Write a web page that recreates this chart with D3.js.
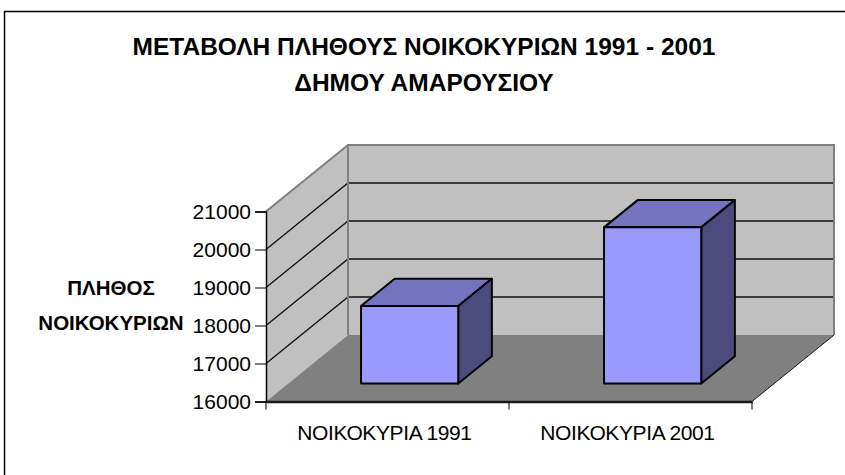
<!DOCTYPE html>
<html>
<head>
<meta charset="utf-8">
<script src="https://cdn.jsdelivr.net/npm/d3@7"></script>
<style>
  html, body { margin: 0; padding: 0; background: #fff; }
  svg { display: block; font-family: "Liberation Sans", Arial, sans-serif; }
</style>
</head>
<body>
<svg id="chart" width="845" height="475"></svg>
<script>
const categories = ["ΝΟΙΚΟΚΥΡΙΑ 1991", "ΝΟΙΚΟΚΥΡΙΑ 2001"];
const values = [18040, 20110];
const yTicks = [16000, 17000, 18000, 19000, 20000, 21000];
const titleLines = ["ΜΕΤΑΒΟΛΗ ΠΛΗΘΟΥΣ ΝΟΙΚΟΚΥΡΙΩΝ 1991 - 2001", "ΔΗΜΟΥ ΑΜΑΡΟΥΣΙΟΥ"];
const yTitleLines = ["ΠΛΗΘΟΣ", "ΝΟΙΚΟΚΥΡΙΩΝ"];

const svg = d3.select("#chart");

// outer chart border
svg.append("rect").attr("x", 4.5).attr("y", 11.5).attr("width", 900).attr("height", 600)
  .attr("fill", "#fff").attr("stroke", "#000").attr("stroke-width", 1.5);

const x0 = 266, x1 = 752;
const y = d3.scaleLinear().domain([16000, 21000]).range([401.5, 211.5]);
const x = d3.scaleBand().domain(categories).range([x0, x1]).paddingInner(0.6).paddingOuter(0.3);
const xBand = d3.scaleBand().domain(categories).range([x0, x1]).padding(0);
const D = [82, -66.5]; // depth vector
const yMin = y.domain()[0], yMax = y.domain()[1];
const P = (px, py, f) => [px + D[0] * f, py + D[1] * f];
const line = d3.line();

// back wall
const bw = [P(x0, y(yMin), 1), P(x1, y(yMin), 1), P(x1, y(yMax), 1), P(x0, y(yMax), 1)];
svg.append("path").attr("d", line(bw) + "Z").attr("fill", "#c0c0c0").attr("stroke", "none");
// left wall
const lw = [[x0, y(yMin)], P(x0, y(yMin), 1), P(x0, y(yMax), 1), [x0, y(yMax)]];
svg.append("path").attr("d", line(lw) + "Z").attr("fill", "#c0c0c0").attr("stroke", "none");
// floor
const fl = [[x0, y(yMin)], [x1, y(yMin)], P(x1, y(yMin), 1), P(x0, y(yMin), 1)];
svg.append("path").attr("d", line(fl) + "Z").attr("fill", "#808080").attr("stroke", "none");

// gridlines
yTicks.filter(v => v > yMin && v < yMax).forEach(v => {
  svg.append("path").attr("d", line([[x0, y(v)], P(x0, y(v), 1), P(x1, y(v), 1)]))
    .attr("fill", "none").attr("stroke", "#111").attr("stroke-width", 1.3);
});
// wall edges
svg.append("path").attr("d", line([[x0, y(yMax)], P(x0, y(yMax), 1), P(x1, y(yMax), 1), P(x1, y(yMin), 1)]))
  .attr("fill", "none").attr("stroke", "#808080").attr("stroke-width", 2);
svg.append("path").attr("d", line([P(x0, y(yMin), 1), P(x0, y(yMax), 1)]))
  .attr("fill", "none").attr("stroke", "#808080").attr("stroke-width", 2);
svg.append("path").attr("d", line([P(x1, y(yMin), 1), [x1, y(yMin)]]))
  .attr("fill", "none").attr("stroke", "#1a1a1a").attr("stroke-width", 1);

// bars
const f0 = 0.27, fd = 0.41;
categories.forEach((c, i) => {
  const [bx, by0] = P(x(c), y(yMin), f0);
  const bwid = x.bandwidth();
  const by1 = y(values[i]) + D[1] * f0;
  const dx = D[0] * fd, dy = D[1] * fd;
  const g = svg.append("g").attr("stroke", "#000").attr("stroke-width", 2).attr("stroke-linejoin", "round");
  g.append("path").attr("d", line([[bx, by1], [bx + dx, by1 + dy], [bx + bwid + dx, by1 + dy], [bx + bwid, by1]]) + "Z")
    .attr("fill", "#7373be");
  g.append("path").attr("d", line([[bx + bwid, by1], [bx + bwid + dx, by1 + dy], [bx + bwid + dx, by0 + dy], [bx + bwid, by0]]) + "Z")
    .attr("fill", "#4b4b7e");
  g.append("rect").attr("x", bx).attr("y", by1).attr("width", bwid).attr("height", by0 - by1)
    .attr("fill", "#9999ff");
});

// y axis
const yAxis = d3.axisLeft(y).tickValues(yTicks).tickSize(11).tickPadding(4).tickFormat(d3.format("d"));
const ya = svg.append("g").attr("transform", `translate(${x0},0)`).call(yAxis);
ya.select(".domain").attr("stroke", "#000").attr("stroke-width", 1.5);
ya.selectAll(".tick line").attr("stroke", "#000");
ya.selectAll("text").attr("font-family", "Liberation Sans, Arial, sans-serif").attr("font-size", 21).attr("fill", "#000");

// x axis
const xAxis = d3.axisBottom(xBand).tickValues([]).tickSizeOuter(0);
const xa = svg.append("g").attr("transform", `translate(0,${y(yMin)})`).call(xAxis);
xa.select(".domain").attr("stroke", "#1a1a1a").attr("stroke-width", 2.5);
const tickXs = [x0, ...categories.slice(1).map(c => xBand(c)), x1];
xa.selectAll("line.tk").data(tickXs).enter().append("line").attr("class", "tk")
  .attr("x1", d => d).attr("x2", d => d).attr("y1", 0).attr("y2", 8)
  .attr("stroke", "#000").attr("stroke-width", 1);
xa.selectAll("text.lbl").data(categories).enter().append("text").attr("class", "lbl")
  .attr("x", d => xBand(d) + xBand.bandwidth() / 2 - 3).attr("y", 38)
  .attr("text-anchor", "middle").attr("font-size", 21).attr("letter-spacing", -0.4)
  .attr("fill", "#000").text(d => d);

// title
svg.append("g").selectAll("text").data(titleLines).enter().append("text")
  .attr("x", 424).attr("y", (d, i) => 55 + i * 36)
  .attr("text-anchor", "middle").attr("font-weight", "bold").attr("font-size", 24.5)
  .attr("fill", "#000").text(d => d);

// y title
svg.append("g").selectAll("text").data(yTitleLines).enter().append("text")
  .attr("x", 111).attr("y", (d, i) => 295 + i * 35)
  .attr("text-anchor", "middle").attr("font-weight", "bold").attr("font-size", 20.5)
  .attr("fill", "#000").text(d => d);
</script>
</body>
</html>
